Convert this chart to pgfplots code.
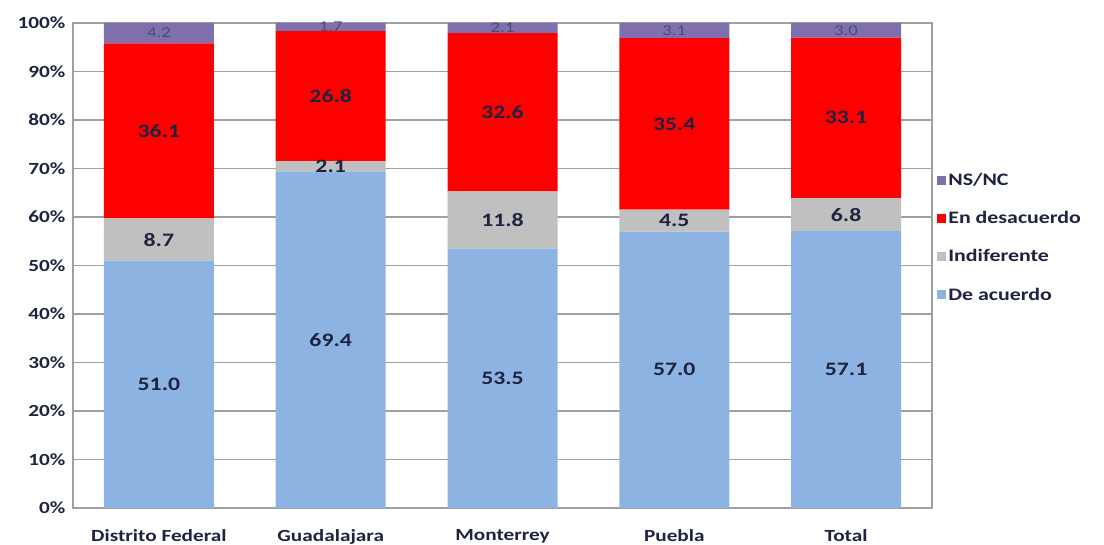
\documentclass[border=0pt]{standalone}
\usepackage{pgfplots}
\pgfplotsset{compat=1.18}
\usepackage{fontspec}
\setmainfont{Carlito}[FakeStretch=1.25]
\definecolor{cBlue}{HTML}{8DB3E2}
\definecolor{cGrey}{HTML}{C0C0C0}
\definecolor{cRed}{HTML}{FF0000}
\definecolor{cPurp}{HTML}{7F6FAE}
\definecolor{txt}{HTML}{1E2340}
\definecolor{gridc}{HTML}{A0A0A0}

\pgfplotsset{
  base/.style={
    width=859pt, height=485pt, scale only axis,
    at={(73pt,37pt)}, anchor=south west,
    xmin=-0.5, xmax=4.5, ymin=0, ymax=100,
  },
}

\begin{document}
\begin{tikzpicture}
\path[use as bounding box] (0,0) rectangle (1104pt,545pt);
\begin{axis}[
  base,
  ybar stacked,
  bar width=110pt,
  axis line style={gridc, line width=1.2pt},
  ymajorgrids, grid style={gridc, line width=1.2pt},
  ytick={0,10,...,100},
  yticklabel={\pgfmathprintnumber{\tick}\%},
  xtick={0,1,2,3,4},
  xticklabels={Distrito Federal, Guadalajara, Monterrey, Puebla, Total},
  major tick length=0pt,
  /pgf/number format/assume math mode=true,
  ticklabel style={font=\bfseries\fontsize{17}{19}\selectfont, text=txt},
  yticklabel style={xshift=-4pt},
  xticklabel style={yshift=-18pt},
  reverse legend,
  legend style={at={(1.006,0.695)}, anchor=north west, draw=none,
    font=\bfseries\fontsize{17.5}{19}\selectfont, text=txt,
    row sep=20.5pt, inner sep=0pt},
  legend cell align=left,
  legend image code/.code={\fill[#1,draw=none] (0pt,-4.5pt) rectangle (9pt,4.5pt);},
]
\addplot[fill=cBlue, draw=none] coordinates {(0,51.0) (1,69.4) (2,53.5) (3,57.0) (4,57.1)};
\addplot[fill=cGrey, draw=none] coordinates {(0,8.7) (1,2.1) (2,11.8) (3,4.5) (4,6.8)};
\addplot[fill=cRed, draw=none] coordinates {(0,36.1) (1,26.8) (2,32.6) (3,35.4) (4,33.1)};
\addplot[fill=cPurp, draw=none] coordinates {(0,4.2) (1,1.7) (2,2.1) (3,3.1) (4,3.0)};
\legend{De acuerdo, Indiferente, En desacuerdo, NS/NC}
\end{axis}
\begin{axis}[
  base, hide axis,
  nodes near coords, point meta=explicit symbolic,
  nodes near coords style={anchor=center, text=txt,
    font=\bfseries\fontsize{19}{21}\selectfont},
]
\addplot[only marks, mark=none] table[meta=lab] {
x y lab
0 25.5 51.0
1 34.7 69.4
2 26.75 53.5
3 28.5 57.0
4 28.55 57.1
0 55.35 8.7
1 70.45 2.1
2 59.4 11.8
3 59.25 4.5
4 60.5 6.8
0 77.75 36.1
1 84.9 26.8
2 81.6 32.6
3 79.2 35.4
4 80.45 33.1
};
\addplot[only marks, mark=none,
  nodes near coords style={font=\fontsize{15}{16}\selectfont, text=txt!80}]
  table[meta=lab] {
x y lab
0 97.9 4.2
1 99.15 1.7
2 98.95 2.1
3 98.45 3.1
4 98.5 3.0
};
\end{axis}
\end{tikzpicture}
\end{document}
